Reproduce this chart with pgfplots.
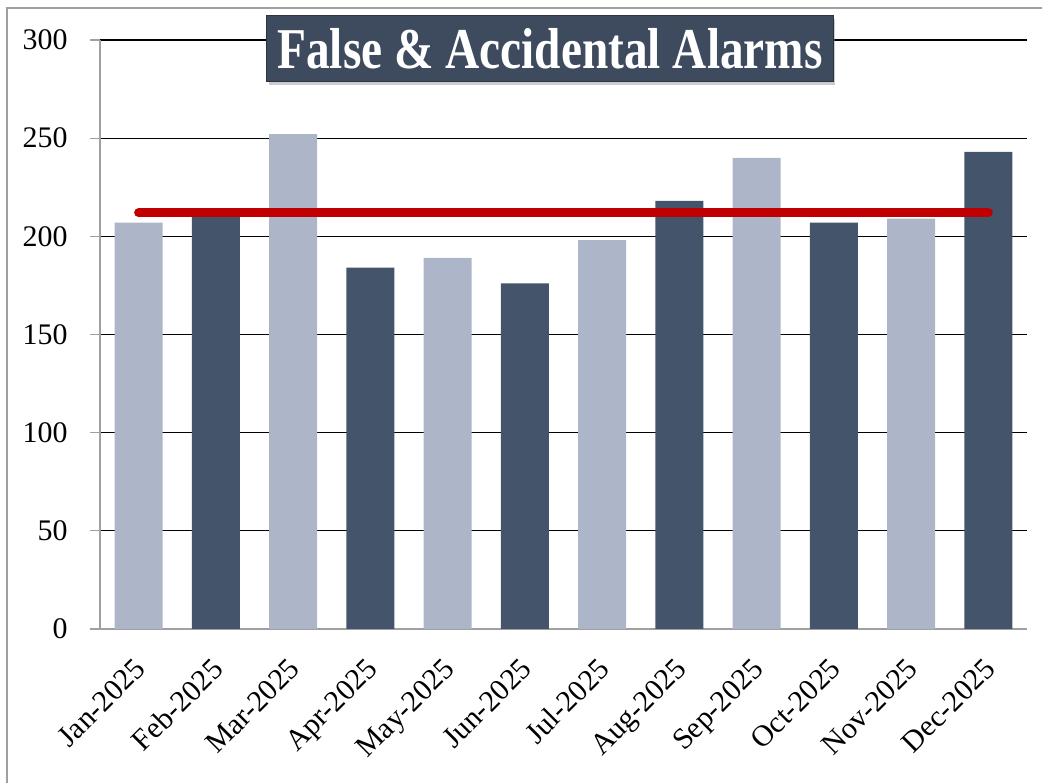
\documentclass[border=0pt]{standalone}
\usepackage{pgfplots}
\pgfplotsset{compat=1.18}
\usepackage{fontspec}
\setmainfont{Liberation Serif}
\usetikzlibrary{shadows}
\definecolor{lightbar}{HTML}{ACB6C8}
\definecolor{darkbar}{HTML}{44546A}
\definecolor{redline}{HTML}{C00000}
\definecolor{titlebox}{HTML}{3E4B5E}
\definecolor{axisgray}{HTML}{A0A0A0}
\begin{document}
\begin{tikzpicture}[x=1bp,y=1bp]
\path[use as bounding box] (0,0) rectangle (1042,783);
\draw[axisgray, line width=2bp] (7,0) -- (7,775) -- (1042,775);
\begin{axis}[
  at={(100bp,154bp)}, anchor=south west,
  scale only axis, width=927bp, height=589bp,
  xmin=-0.5, xmax=11.5, ymin=0, ymax=300,
  ytick={0,50,...,300},
  xtick={0,...,11},
  xticklabels={Jan-2025,Feb-2025,Mar-2025,Apr-2025,May-2025,Jun-2025,Jul-2025,Aug-2025,Sep-2025,Oct-2025,Nov-2025,Dec-2025},
  major x tick style={draw=none},
  extra x ticks={-0.5,0.5,...,11.5},
  extra x tick labels={},
  extra x tick style={grid=none, tick style={draw=axisgray, line width=1.2bp}},
  tick align=outside,
  major tick length=10bp,
  ytick style={draw=axisgray, line width=1.2bp},
  ymajorgrids,
  grid style={black, line width=1.3bp},
  axis x line*=bottom, axis y line*=left,
  axis line style={axisgray, line width=1.5bp, -},
  /pgf/number format/assume math mode=true,
  ticklabel style={font=\fontsize{30}{36}\selectfont},
  yticklabel style={xshift=-19bp},
  xticklabel style={rotate=45, anchor=north east, xshift=-13bp, yshift=-5bp},
  clip=false,
]
\addplot[ybar, bar width=48bp, bar shift=0pt, fill=lightbar, draw=none] coordinates {
(0,207) (2,252) (4,189) (6,198) (8,240) (10,209)};
\addplot[ybar, bar width=48bp, bar shift=0pt, fill=darkbar, draw=none] coordinates {
(1,210) (3,184) (5,176) (7,218) (9,207) (11,243)};
\addplot[redline, line width=9bp, line cap=round] coordinates {(0,212) (11,212)};
\end{axis}
\node[fill=titlebox, draw=titlebox!70!black, line width=1bp, minimum width=566bp, minimum height=66bp,
  inner sep=0pt, text=white, font=\bfseries\fontsize{47.5}{50}\selectfont,
  drop shadow={shadow xshift=2bp, shadow yshift=-3bp, opacity=0.4}]
  at (550,734) {\scalebox{1}[1.22]{False \& Accidental Alarms}};
\end{tikzpicture}
\end{document}
